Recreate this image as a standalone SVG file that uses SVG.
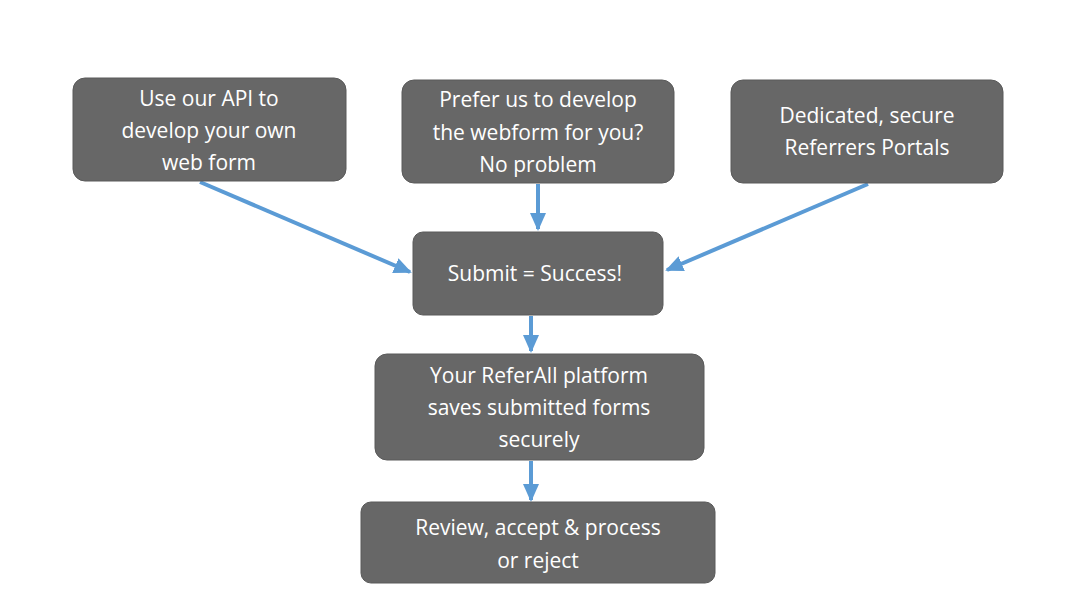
<svg xmlns="http://www.w3.org/2000/svg" width="1076" height="605" viewBox="0 0 1076 605">
<style>
.n{fill:#676767;stroke:#5a5a5a;stroke-width:1}
.t{font-family:"Open Sans",sans-serif;font-size:21px;fill:#fff;text-anchor:middle}
.c{stroke:#5B9BD5;stroke-width:4;fill:none;marker-end:url(#a)}
</style>
<defs><marker id="a" markerUnits="userSpaceOnUse" markerWidth="18" markerHeight="16" refX="16" refY="8" orient="auto"><path d="M0,0 L18,8 L0,16 z" fill="#5B9BD5"/></marker></defs>
<rect width="1076" height="605" fill="#fff"/>
<g id="connectors">
<line class="c" x1="200" y1="182" x2="410" y2="272"/>
<line class="c" x1="538" y1="184" x2="538" y2="229"/>
<line class="c" x1="868" y1="184" x2="667" y2="270"/>
<line class="c" x1="531" y1="316" x2="531" y2="351"/>
<line class="c" x1="531" y1="461" x2="531" y2="500"/>
</g>
<g id="n1"><rect class="n" x="73" y="78" width="273" height="103" rx="12"/>
<text class="t" x="209" y="106">Use our API to</text><text class="t" x="209" y="138">develop your own</text><text class="t" x="209" y="170">web form</text></g>
<g id="n2"><rect class="n" x="402" y="80" width="272" height="103" rx="12"/>
<text class="t" x="538" y="107">Prefer us to develop</text><text class="t" x="538" y="140">the webform for you?</text><text class="t" x="538" y="172">No problem</text></g>
<g id="n3"><rect class="n" x="731" y="80" width="272" height="103" rx="12"/>
<text class="t" x="867" y="123">Dedicated, secure</text><text class="t" x="867" y="155">Referrers Portals</text></g>
<g id="n4"><rect class="n" x="413" y="232" width="250" height="83" rx="10"/>
<text class="t" x="535" y="281">Submit = Success!</text></g>
<g id="n5"><rect class="n" x="375" y="354" width="329" height="106" rx="12"/>
<text class="t" x="539" y="383">Your ReferAll platform</text><text class="t" x="539" y="415">saves submitted forms</text><text class="t" x="539" y="447">securely</text></g>
<g id="n6"><rect class="n" x="361" y="502" width="354" height="81" rx="10"/>
<text class="t" x="538" y="535">Review, accept &amp; process</text><text class="t" x="538" y="568">or reject</text></g>
</svg>
